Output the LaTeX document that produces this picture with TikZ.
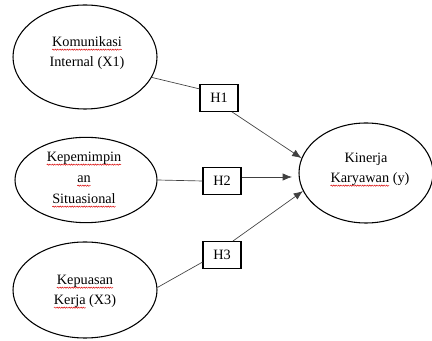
\documentclass[tikz,border=0pt]{standalone}
\usepackage{fontspec}
\setmainfont{Liberation Serif}
\usetikzlibrary{arrows.meta,decorations.pathmorphing,shapes.geometric}
\tikzset{
  var/.style={ellipse, draw, line width=0.8pt, inner sep=0pt},
  txt/.style={inner sep=0pt, outer sep=0pt, anchor=base, font=\fontsize{10.7}{13}\selectfont},
  wave/.style={draw=red!85!black, line width=0.35pt, decorate,
    decoration={snake, amplitude=0.45pt, segment length=1.8pt}},
  hyp/.style={rectangle, draw, line width=0.8pt, minimum width=28.5pt, minimum height=20pt,
    inner sep=0pt, font=\fontsize{10.7}{13}\selectfont},
  conn/.style={draw=black!75, line width=0.5pt},
  arr/.style={conn, -{Latex[length=7pt,width=5.5pt]}}
}
\newcommand\squig[1]{\path[wave] ([yshift=-2pt]#1.base west) -- ([yshift=-2pt]#1.base east);}
\begin{document}
\begin{tikzpicture}[x=0.75pt,y=-0.75pt]
\useasboundingbox (0,0) rectangle (432,341);
% ellipses
\node[var, minimum width=108pt, minimum height=78pt] (e1) at (85,57) {};
\node[var, minimum width=106.5pt, minimum height=64pt] (e2) at (86,180) {};
\node[var, minimum width=108pt, minimum height=72pt] (e3) at (85,290) {};
\node[var, minimum width=100.5pt, minimum height=75pt] (t) at (366,173) {};
% texts
\node[txt] (e1a) at (87,47) {Komunikasi};
\node[txt] (e1b) at (87,67) {Internal (X1)};
\node[txt] (e2a) at (84,162) {Kepemimpin};
\node[txt] (e2b) at (84,183) {an};
\node[txt] (e2c) at (84,204) {Situasional};
\node[txt] (e3a) at (85,285) {Kepuasan};
\node[txt] (e3b) at (85,305) {Kerja (X3)};
\node[txt, anchor=base west] (e3w) at (e3b.base west) {\phantom{Kerja}};
\node[txt] (ta) at (366,163) {Kinerja};
\node[txt] (tb) at (370,183) {Karyawan (y)};
\node[txt, anchor=base west] (tw) at (tb.base west) {\phantom{Karyawan}};
\squig{e1a}
\squig{e2a}
\squig{e2b}
\squig{e2c}
\squig{e3a}
\squig{e3w}
\squig{tw}
% hypotheses
\node[hyp] (h1) at (219,98) {H1};
\node[hyp] (h2) at (222,181) {H2};
\node[hyp] (h3) at (222,255) {H3};
\coordinate (t2) at (292,177);
% connectors
\draw[conn] (e1.-17) -- (h1.155);
\draw[arr] (h1.-47) -- (t.167);
\draw[conn] (e2.east) -- (h2.west);
\draw[arr] (h2.east |- t2) -- (t2);
\draw[conn] (e3.2) -- (h3.200);
\draw[arr] (h3.52) -- (t.196);
\end{tikzpicture}
\end{document}
